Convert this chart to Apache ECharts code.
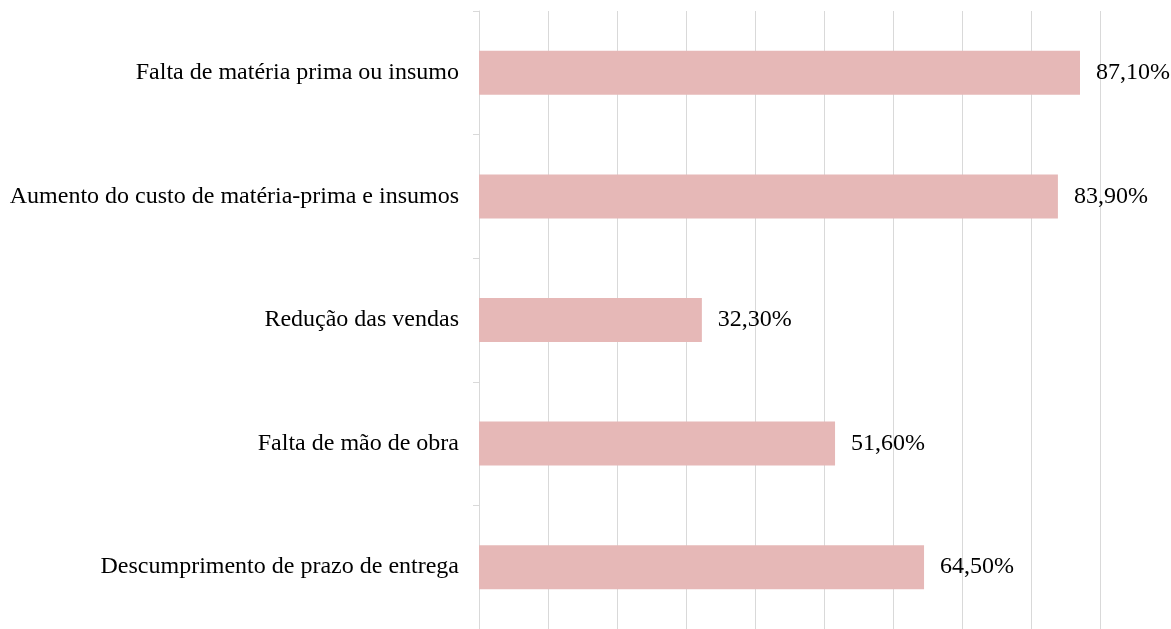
<!DOCTYPE html>
<html>
<head>
<meta charset="utf-8">
<script src="https://cdn.jsdelivr.net/npm/echarts@6/dist/echarts.min.js"></script>
<style>
  html, body { margin: 0; padding: 0; background: #fff; }
  #chart { width: 1171px; height: 629px; }
</style>
</head>
<body>
<div id="chart"></div>
<script>
const categories = [
  'Falta de matéria prima ou insumo',
  'Aumento do custo de matéria-prima e insumos',
  'Redução das vendas',
  'Falta de mão de obra',
  'Descumprimento de prazo de entrega'
];
const values = [87.1, 83.9, 32.3, 51.6, 64.5];

const chart = echarts.init(document.getElementById('chart'));
const font = '"Liberation Serif", "Times New Roman", serif';

const option = {
  animation: false,
  grid: { left: 479, right: 71, top: 11, height: 622 },
  xAxis: {
    type: 'value',
    min: 0,
    max: 90,
    interval: 10,
    axisLine: { show: false },
    axisTick: { show: false },
    axisLabel: { show: false },
    splitLine: { show: true, lineStyle: { color: '#d9d9d9', width: 1 } }
  },
  yAxis: {
    type: 'category',
    inverse: true,
    data: categories,
    axisLine: { show: true, lineStyle: { color: '#d9d9d9', width: 1 } },
    axisTick: { show: true, length: 6, lineStyle: { color: '#d9d9d9' } },
    axisLabel: { margin: 20, color: '#000', fontFamily: font, fontSize: 24 }
  },
  series: [{
    type: 'bar',
    data: values,
    barWidth: 44,
    itemStyle: { color: '#e6b8b7' },
    label: {
      show: true,
      position: 'right',
      distance: 16,
      color: '#000',
      fontFamily: font,
      fontSize: 24,
      formatter: p => p.value.toFixed(2).replace('.', ',') + '%'
    }
  }]
};

chart.setOption(option);
window.addEventListener('resize', function () {
  chart.resize();
});
</script>
</body>
</html>
